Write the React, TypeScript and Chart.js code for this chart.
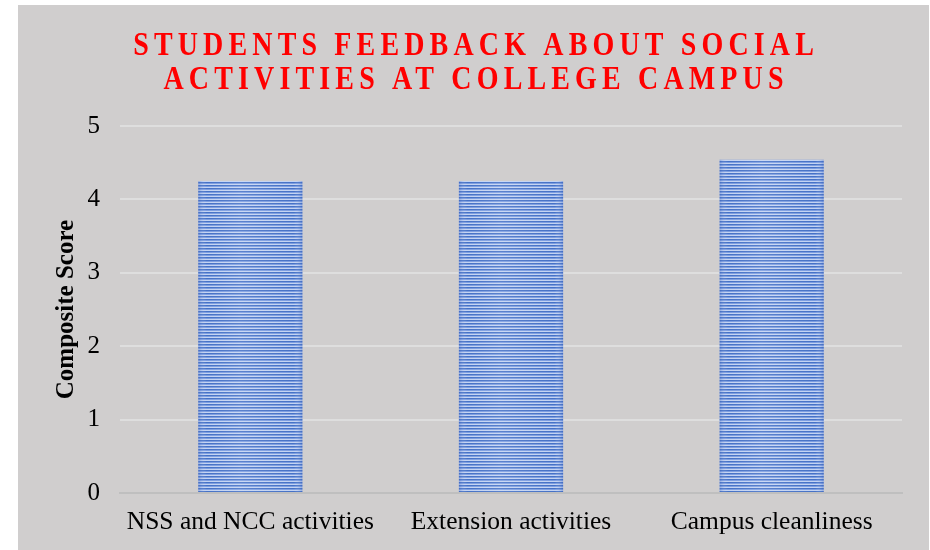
import React, { useEffect, useRef } from "react";
import { Chart, registerables } from "chart.js";

Chart.register(...registerables);

const titleLines = ["STUDENTS FEEDBACK ABOUT SOCIAL", "ACTIVITIES AT COLLEGE CAMPUS"];
const categories = ["NSS and NCC activities", "Extension activities", "Campus cleanliness"];
const scores = [4.25, 4.25, 4.54];
const yAxisTitle = "Composite Score";

const patternCache: Record<string, CanvasPattern> = {};

function barPattern(ctx: CanvasRenderingContext2D, left: number, width: number): CanvasPattern | string {
  const w = Math.max(1, Math.round(width));
  const key = w + ":" + Math.round(left);
  if (patternCache[key]) return patternCache[key];
  const c = document.createElement("canvas");
  c.width = w;
  c.height = 3;
  const g = c.getContext("2d");
  if (!g) return "#4472c4";
  const rows = ["#4571c6", "#7c9de0", "#c3d3f2"];
  rows.forEach((col, i) => {
    g.fillStyle = col;
    g.fillRect(0, i, w, 1);
  });
  const grad = g.createLinearGradient(0, 0, w, 0);
  grad.addColorStop(0, "rgba(60,100,190,0.35)");
  grad.addColorStop(0.08, "rgba(255,255,255,0)");
  grad.addColorStop(0.4, "rgba(255,255,255,0.12)");
  grad.addColorStop(0.92, "rgba(255,255,255,0)");
  grad.addColorStop(1, "rgba(60,100,190,0.35)");
  g.fillStyle = grad;
  g.fillRect(0, 0, w, 3);
  const p = ctx.createPattern(c, "repeat");
  if (!p) return "#4472c4";
  try {
    p.setTransform(new DOMMatrix().translate(left, 0));
  } catch (e) {}
  patternCache[key] = p;
  return p;
}

const titlePlugin = {
  id: "spacedTitle",
  afterDraw(chart: any) {
    const ctx = chart.ctx as CanvasRenderingContext2D;
    const spacing = 5.15;
    const ys = [41, 75];
    titleLines.forEach((line, i) => {
      ctx.save();
      ctx.font = "bold 28px 'Liberation Serif', serif";
      ctx.fillStyle = "#ff0000";
      (ctx as any).letterSpacing = spacing + "px";
      ctx.textAlign = "left";
      ctx.textBaseline = "middle";
      const w = ctx.measureText(line).width - spacing;
      ctx.translate(chart.width / 2, ys[i]);
      ctx.scale(1, 1.22);
      ctx.fillText(line, -w / 2, 0);
      ctx.restore();
    });
  },
};

export default function App() {
  const ref = useRef<HTMLCanvasElement | null>(null);
  useEffect(() => {
    if (!ref.current) return;
    const chart = new Chart(ref.current, {
      type: "bar",
      data: {
        labels: categories,
        datasets: [
          {
            data: scores,
            backgroundColor: (c: any) => {
              const ch = c.chart;
              const xs = ch.scales && ch.scales.x;
              if (!xs || !ch.chartArea) return "#6f93d8";
              const bw = (xs.width / categories.length) * 0.4;
              const left = xs.getPixelForValue(c.dataIndex) - bw / 2;
              return barPattern(ch.ctx, left, bw);
            },
            borderWidth: 0,
            categoryPercentage: 1,
            barPercentage: 0.4,
          },
        ],
      },
      options: {
        animation: false,
        responsive: false,
        maintainAspectRatio: false,
        layout: { padding: { top: 121, right: 27, left: 0, bottom: 0 } },
        plugins: {
          legend: { display: false },
          title: { display: false },
          tooltip: { enabled: false },
        },
        scales: {
          x: {
            grid: { display: false, drawTicks: false },
            border: { display: true, color: "#bfbfbf", width: 2 },
            ticks: {
              color: "#000",
              font: { family: "'Liberation Serif', serif", size: 25.5 },
              padding: 14,
            },
            afterFit: (s: any) => {
              s.height = 57;
            },
          },
          y: {
            min: 0,
            max: 5,
            grid: { color: "#dedede", lineWidth: 2, drawTicks: false },
            border: { display: false },
            ticks: {
              stepSize: 1,
              color: "#000",
              font: { family: "'Liberation Serif', serif", size: 25 },
              padding: 20,
            },
            title: {
              display: true,
              text: yAxisTitle,
              color: "#000",
              font: { family: "'Liberation Serif', serif", size: 25, weight: "bold" },
              padding: { top: 34, bottom: 0 },
            },
            afterFit: (s: any) => {
              s.width = 102;
            },
          },
        },
      },
      plugins: [titlePlugin],
    });
    return () => chart.destroy();
  }, []);
  return (
    <div
      style={{
        position: "absolute",
        left: 18,
        top: 5,
        width: 911,
        height: 545,
        background: "#d0cece",
      }}
    >
      <canvas ref={ref} width={911} height={545} style={{ display: "block" }} />
    </div>
  );
}
